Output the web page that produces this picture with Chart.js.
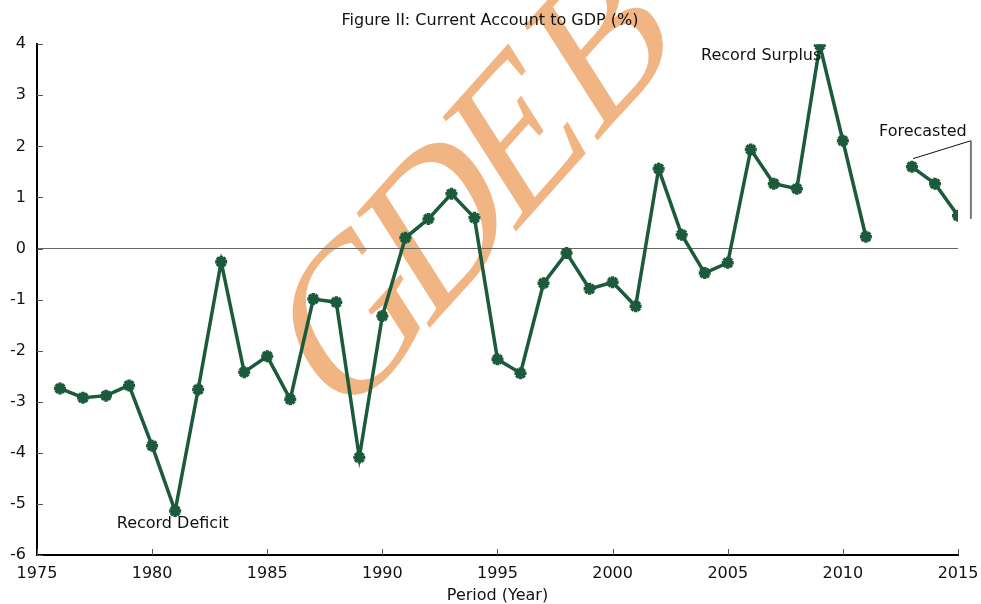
<!DOCTYPE html>
<html>
<head>
<meta charset="utf-8">
<title>Current Account to GDP</title>
<script src="https://cdn.jsdelivr.net/npm/chart.js@4.4.1/dist/chart.umd.min.js"></script>
<style>
  html, body { margin: 0; padding: 0; background: #ffffff; }
  #wrap { width: 981px; height: 604px; }
</style>
</head>
<body>
<div id="wrap"><canvas id="ca-chart"></canvas></div>
<script>
// Data (2012 has no value: gap before the forecast)
const years = [1976, 1977, 1978, 1979, 1980, 1981, 1982, 1983, 1984, 1985,
  1986, 1987, 1988, 1989, 1990, 1991, 1992, 1993, 1994, 1995,
  1996, 1997, 1998, 1999, 2000, 2001, 2002, 2003, 2004, 2005,
  2006, 2007, 2008, 2009, 2010, 2011, 2012, 2013, 2014, 2015];
const currentAccount = [-2.74, -2.92, -2.88, -2.68, -3.86, -5.14, -2.76, -0.26, -2.42, -2.11,
  -2.95, -0.99, -1.05, -4.09, -1.32, 0.21, 0.58, 1.07, 0.60, -2.17,
  -2.44, -0.68, -0.09, -0.79, -0.66, -1.13, 1.56, 0.27, -0.48, -0.28,
  1.94, 1.27, 1.17, 3.98, 2.11, 0.23, null, 1.60, 1.27, 0.64];
const xTicks = [1975, 1980, 1985, 1990, 1995, 2000, 2005, 2010, 2015];
const yTicks = [-6, -5, -4, -3, -2, -1, 0, 1, 2, 3, 4];

const GREEN = "#1b5a3a";
const FONT = "'DejaVu Sans', Verdana, sans-serif";

// watermark letters behind everything
const watermark = {
  id: "watermark",
  beforeDraw(chart) {
    const c = chart.ctx;
    c.save();
    c.fillStyle = "#ffffff";
    c.fillRect(0, 0, chart.width, chart.height);
    c.translate(486, 186);
    c.rotate(-0.84);
    c.transform(1, 0, -0.28, 1, 0, 0); // fake italic slant
    c.fillStyle = "rgb(240,181,130)";
    c.font = "200px 'Liberation Serif', serif";
    c.textAlign = "center";
    c.textBaseline = "middle";
    const letters = ["G", "D", "E", "B"];
    const offs = [-190, -62, 56, 184];
    letters.forEach((l, i) => c.fillText(l, offs[i], 0));
    c.restore();
  },
};

// inward tick marks + text annotations
const extras = {
  id: "extras",
  afterDatasetsDraw(chart) {
    const c = chart.ctx;
    const xs = chart.scales.x;
    const ys = chart.scales.y;
    const area = chart.chartArea;
    c.save();
    c.strokeStyle = "#555";
    c.lineWidth = 1;
    xTicks.forEach((t) => {
      const px = Math.round(xs.getPixelForValue(t)) + 0.5;
      c.beginPath();
      c.moveTo(px, area.bottom);
      c.lineTo(px, area.bottom - 6);
      c.stroke();
    });
    yTicks.forEach((t) => {
      const py = Math.round(ys.getPixelForValue(t)) + 0.5;
      c.beginPath();
      c.moveTo(area.left, py);
      c.lineTo(area.left + 6, py);
      c.stroke();
    });

    c.fillStyle = "#111";
    c.font = "16px " + FONT;
    c.textBaseline = "middle";
    c.textAlign = "center";
    c.fillText("Record Deficit", xs.getPixelForValue(1980.9), ys.getPixelForValue(-5.39));
    c.textAlign = "left";
    c.fillText("Record Surplus", xs.getPixelForValue(2003.84), ys.getPixelForValue(3.78));
    c.fillText("Forecasted", xs.getPixelForValue(2011.57), ys.getPixelForValue(2.29));

    // pointer lines for the forecast
    c.strokeStyle = "#111";
    c.lineWidth = 1;
    c.beginPath();
    c.moveTo(xs.getPixelForValue(2013.05), ys.getPixelForValue(1.76));
    c.lineTo(xs.getPixelForValue(2015.56), ys.getPixelForValue(2.11));
    c.stroke();
    c.strokeStyle = "#777";
    c.lineWidth = 2;
    c.beginPath();
    c.moveTo(xs.getPixelForValue(2015.56), ys.getPixelForValue(2.11));
    c.lineTo(xs.getPixelForValue(2015.56), ys.getPixelForValue(0.58));
    c.stroke();
    c.restore();
  },
};

new Chart(document.getElementById("ca-chart"), {
  type: "line",
  data: {
    datasets: [
      {
        label: "Current Account to GDP (%)",
        data: years.map((y, i) => ({ x: y, y: currentAccount[i] })),
        borderColor: GREEN,
        backgroundColor: GREEN,
        borderWidth: 3.5,
        pointStyle: "star",
        pointRadius: 6,
        pointBorderWidth: 3.5,
        pointBorderColor: GREEN,
        spanGaps: false,
        tension: 0,
      },
    ],
  },
  options: {
    responsive: true,
    maintainAspectRatio: false,
    animation: false,
    layout: { padding: { left: -1, right: 0, top: 0, bottom: 0 } },
    plugins: {
      legend: { display: false },
      tooltip: { enabled: false },
      title: {
        display: true,
        text: "Figure II: Current Account to GDP (%)",
        color: "#111",
        font: { family: FONT, size: 16, weight: "normal" },
        padding: { top: 11, bottom: 14 },
      },
    },
    scales: {
      x: {
        type: "linear",
        min: 1975,
        max: 2015,
        afterBuildTicks: (axis) => {
          axis.ticks = xTicks.map((v) => ({ value: v }));
        },
        afterFit: (axis) => {
          axis.height = 49;
          axis.paddingRight = 23;
        },
        ticks: {
          color: "#111",
          font: { family: FONT, size: 16, lineHeight: 1 },
          padding: 11,
          maxRotation: 0,
          callback: (v) => String(v),
        },
        grid: { display: false, drawTicks: false },
        border: { display: true, color: "#000", width: 2 },
        title: {
          display: true,
          text: "Period (Year)",
          color: "#111",
          font: { family: FONT, size: 16, lineHeight: 1 },
          padding: { top: 0, bottom: 0 },
        },
      },
      y: {
        min: -6,
        max: 4,
        afterBuildTicks: (axis) => {
          axis.ticks = yTicks.map((v) => ({ value: v }));
        },
        ticks: {
          color: "#111",
          font: { family: FONT, size: 16 },
          padding: 11,
        },
        grid: {
          drawTicks: false,
          color: (ctx) => (ctx.tick && ctx.tick.value === 0 ? "#666" : "rgba(0,0,0,0)"),
          lineWidth: 1,
        },
        border: { display: true, color: "#000", width: 2 },
      },
    },
  },
  plugins: [watermark, extras],
});
</script>
</body>
</html>
